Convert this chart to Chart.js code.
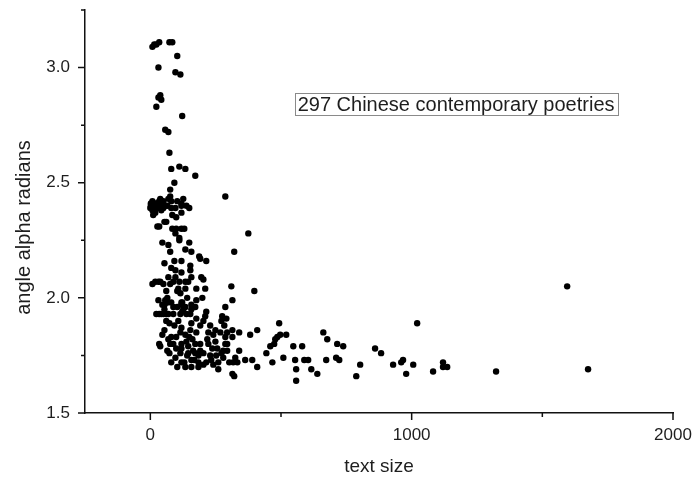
<!DOCTYPE html>
<html>
<head>
<meta charset="utf-8">
<script src="https://cdn.jsdelivr.net/npm/chart.js@4/dist/chart.umd.min.js"></script>
<style>
  html, body { margin: 0; padding: 0; background: #fff; }
  canvas { display: block; }
</style>
</head>
<body>
<canvas id="poems" width="693" height="477"></canvas>
<script>
// one point per poem: text size vs. angle alpha (radians)
const textSize = [
  8, 15, 23, 34, 73, 84, 103, 31, 96, 115, 31, 42, 38, 23, 122, 57, 69, 73, 80, 111, 134, 172, 92, 287,
  4, 11, 15, 23, 27, 42, 50, 57, 42, 19, 76, 80, 103, 119, 126, 96, 119, 149, 119, 99, 61, 54, 27, 34, 99, 119, 130, 96, 111,
  2, 0, 8, 31, 38, 65, 50, 11, 34, 8, 80, 69,
  46, 111, 149, 76, 157, 187, 214, 191, 92, 119, 54, 80, 153, 153, 119, 157, 195, 203, 31, 19,
  50, 76, 88, 96, 107, 134, 145, 210, 103, 115, 65, 80, 54, 119, 141, 157, 164, 199, 172, 134, 287, 38, 8, 61, 96,
  46, 65, 88, 34, 42, 61, 54, 119, 126, 138, 153, 157, 115, 214, 210, 203, 157, 275, 283, 73,
  119, 115, 46, 80, 134, 176, 222, 241, 268, 287, 34, 76, 119, 119, 145, 164, 191, 222, 249, 256,
  287, 73, 115, 145, 172, 184, 203, 229, 252, 272, 80, 119, 157, 184, 214, 233, 260, 134, 157, 184,
  38, 54, 69, 88, 65, 96, 50, 69, 88, 103, 122, 122, 57, 23, 141, 130, 99, 138, 161, 172,
  191, 153, 107, 92, 176, 191, 218, 237, 203,
  375, 321, 310, 398, 314, 291, 272, 314, 340, 382, 409, 493, 520, 486, 478, 474, 459, 444, 509, 467,
  547, 581, 554, 589, 604, 558, 616, 639, 294, 294, 279, 314, 279, 325, 340, 363, 390, 317, 333, 409,
  314, 321, 302, 558, 497,
  662, 677, 715, 738, 673, 711, 723, 803, 788, 1021, 860, 883, 929, 960, 967, 979, 1006, 1082, 1120, 1120,
  1136, 1323, 1595, 1675,
  2, 5, 19, 46, 27, 138, 84, 31, 61, 99, 149, 168, 103, 241, 260, 111, 69, 134, 176, 69,
  134, 84, 11, 176, 229, 249, 294, 76, 38
];
const alphaAngle = [
  3.09, 3.10, 3.10, 3.11, 3.11, 3.11, 3.05, 3.00, 2.98, 2.97, 2.87, 2.86, 2.88, 2.83, 2.79, 2.73, 2.72, 2.63, 2.56, 2.57, 2.56, 2.53, 2.50, 2.44,
  2.40, 2.41, 2.40, 2.39, 2.41, 2.41, 2.42, 2.40, 2.38, 2.37, 2.44, 2.42, 2.42, 2.41, 2.43, 2.39, 2.40, 2.39, 2.37, 2.35, 2.33, 2.33, 2.31, 2.31, 2.30, 2.30, 2.30, 2.28, 2.26,
  2.41, 2.39, 2.38, 2.40, 2.39, 2.40, 2.39, 2.40, 2.42, 2.42, 2.39, 2.43,
  2.24, 2.25, 2.24, 2.20, 2.20, 2.18, 2.16, 2.17, 2.16, 2.16, 2.15, 2.13, 2.14, 2.12, 2.11, 2.09, 2.09, 2.08, 2.07, 2.07,
  2.06, 2.06, 2.07, 2.09, 2.04, 2.07, 2.07, 2.04, 2.03, 2.02, 2.00, 1.98, 1.97, 1.98, 2.00, 1.97, 1.96, 2.00, 1.96, 1.96, 1.96, 2.07, 2.06, 2.03, 2.12,
  1.97, 1.98, 1.96, 1.93, 1.93, 1.93, 1.95, 1.97, 1.95, 1.93, 1.93, 1.95, 1.93, 1.94, 1.92, 1.90, 1.89, 1.92, 1.88, 1.89,
  1.87, 1.85, 1.84, 1.83, 1.84, 1.85, 1.85, 1.84, 1.85, 1.83, 1.80, 1.80, 1.80, 1.78, 1.79, 1.77, 1.80, 1.80, 1.81, 1.78,
  1.80, 1.76, 1.76, 1.76, 1.76, 1.75, 1.76, 1.75, 1.75, 1.76, 1.72, 1.72, 1.73, 1.72, 1.72, 1.73, 1.72, 1.70, 1.70, 1.70,
  1.79, 1.86, 1.82, 1.80, 1.77, 1.74, 1.93, 1.93, 1.93, 1.96, 1.98, 1.94, 1.99, 1.93, 1.75, 1.72, 1.78, 1.81, 1.82, 1.80,
  1.77, 1.86, 1.90, 1.88, 1.91, 1.88, 1.82, 1.78, 1.71,
  2.28, 2.20, 2.05, 2.03, 1.99, 1.91, 1.90, 1.86, 1.85, 1.84, 1.86, 1.89, 1.84, 1.83, 1.82, 1.80, 1.79, 1.76, 1.74, 1.72,
  1.79, 1.79, 1.73, 1.73, 1.73, 1.69, 1.69, 1.67, 1.85, 1.80, 1.77, 1.83, 1.74, 1.74, 1.77, 1.73, 1.73, 1.72, 1.72, 1.70,
  1.67, 1.66, 1.72, 1.64, 1.84,
  1.85, 1.82, 1.80, 1.79, 1.73, 1.74, 1.73, 1.71, 1.66, 1.89, 1.78, 1.76, 1.71, 1.72, 1.73, 1.67, 1.71, 1.68, 1.72, 1.70,
  1.70, 1.68, 2.05, 1.69,
  2.40, 2.40, 2.41, 2.40, 2.39, 2.40, 2.36, 1.99, 1.90, 1.83, 1.83, 1.73, 1.70, 1.71, 1.69, 2.07, 2.09, 2.04, 2.04, 2.23,
  2.21, 2.30, 2.36, 1.99, 1.88, 1.86, 1.77, 2.47, 2.43
];

const xTicks = [0, 500, 1000, 1500, 2000];
const yTicks = [1.5, 1.75, 2.0, 2.25, 2.5, 2.75, 3.0, 3.25];
const xTitle = 'text size';
const yTitle = 'angle alpha radians';
const noteText = '297 Chinese contemporary poetries';
const notePos = { x: 1170, y: 2.84 };

const FONT = '"Liberation Sans", Arial, Helvetica, sans-serif';
Chart.defaults.font.family = FONT;
Chart.defaults.color = '#1e1e1e';

const points = textSize.map((t, i) => ({ x: t, y: alphaAngle[i] }));

// tick marks (long on labelled values, short in between), y title, note box
const axisExtras = {
  id: 'axisExtras',
  afterDraw(chart) {
    const { ctx, chartArea, scales: { x, y } } = chart;
    ctx.save();
    ctx.strokeStyle = '#111';
    ctx.lineWidth = 1.5;
    ctx.beginPath();
    xTicks.forEach(v => {
      const px = x.getPixelForValue(v);
      const len = v % 1000 === 0 ? 7 : 4;
      ctx.moveTo(px, chartArea.bottom);
      ctx.lineTo(px, chartArea.bottom + len);
    });
    yTicks.forEach(v => {
      const py = y.getPixelForValue(v);
      const len = (v * 2) % 1 === 0 ? 7 : 4;
      ctx.moveTo(chartArea.left, py);
      ctx.lineTo(chartArea.left - len, py);
    });
    ctx.stroke();

    // y axis title, sits a bit below the middle of the axis
    ctx.fillStyle = '#1e1e1e';
    ctx.font = '20px ' + FONT;
    ctx.textAlign = 'center';
    ctx.textBaseline = 'middle';
    ctx.translate(24, (chartArea.top + chartArea.bottom) / 2 + 16);
    ctx.rotate(-Math.PI / 2);
    ctx.fillText(yTitle, 0, 0);
    ctx.restore();

    ctx.save();
    const nx = x.getPixelForValue(notePos.x);
    const ny = y.getPixelForValue(notePos.y);
    ctx.font = '20px ' + FONT;
    const w = ctx.measureText(noteText).width + 6;
    ctx.strokeStyle = '#8a8a8a';
    ctx.lineWidth = 1;
    ctx.strokeRect(Math.round(nx - w / 2) + 0.5, Math.round(ny - 11) + 0.5, Math.round(w), 22);
    ctx.fillStyle = '#1e1e1e';
    ctx.textAlign = 'center';
    ctx.textBaseline = 'middle';
    ctx.fillText(noteText, nx, ny + 1);
    ctx.restore();
  }
};

new Chart(document.getElementById('poems'), {
  type: 'scatter',
  data: {
    datasets: [{
      data: points,
      backgroundColor: '#000',
      borderWidth: 0,
      pointRadius: 3.2,
      pointHoverRadius: 3.2
    }]
  },
  options: {
    responsive: false,
    devicePixelRatio: 1,
    animation: false,
    layout: { padding: { left: 0, right: 20, top: 10, bottom: 0 } },
    plugins: { legend: { display: false }, tooltip: { enabled: false } },
    scales: {
      x: {
        type: 'linear',
        min: -250,
        max: 2000,
        afterBuildTicks: s => { s.ticks = xTicks.map(value => ({ value })); },
        afterFit: s => { s.height = 64; s.paddingLeft = 0; s.paddingRight = 0; },
        grid: { display: false, tickLength: 7 },
        border: { display: true, color: '#111', width: 1.5 },
        ticks: {
          padding: 5,
          maxRotation: 0,
          font: { size: 17 },
          callback: v => (v % 1000 === 0 ? String(v) : '')
        },
        title: { display: true, text: xTitle, font: { size: 19 }, padding: { top: 0, bottom: -1 } }
      },
      y: {
        type: 'linear',
        min: 1.5,
        max: 3.25,
        afterBuildTicks: s => { s.ticks = yTicks.map(value => ({ value })); },
        afterFit: s => { s.width = 85; s.paddingTop = 0; s.paddingBottom = 0; },
        grid: { display: false, tickLength: 7 },
        border: { display: true, color: '#111', width: 1.5 },
        ticks: {
          padding: 8,
          font: { size: 17 },
          callback: v => ((v * 2) % 1 === 0 ? v.toFixed(1) : '')
        }
      }
    }
  },
  plugins: [axisExtras]
});
</script>
</body>
</html>
